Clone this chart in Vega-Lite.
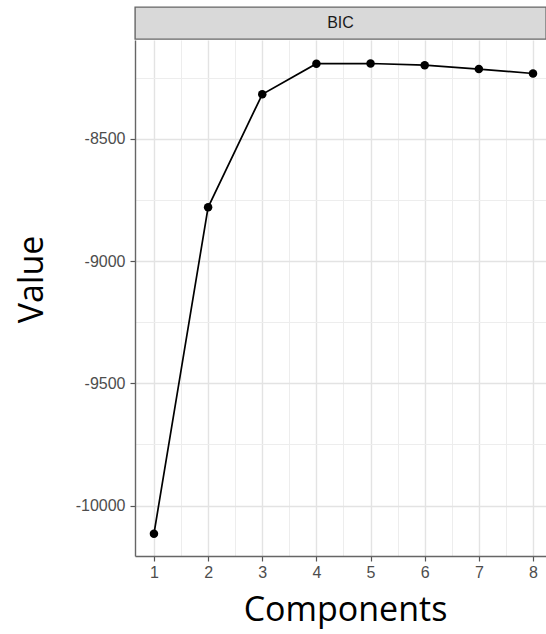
{
  "$schema": "https://vega.github.io/schema/vega-lite/v6.json",
  "padding": {"left": 15, "top": 6, "right": 0, "bottom": 8},
  "spacing": 0,
  "config": {
    "view": {"stroke": null},
    "font": "Liberation Sans",
    "axis": {
      "labelFont": "Liberation Sans",
      "labelFontSize": 16,
      "labelColor": "#4d4d4d",
      "tickColor": "#555555",
      "tickSize": 5,
      "tickWidth": 1.2,
      "titleFont": "Open Sans",
      "titleFontSize": 34,
      "titleFontWeight": "normal",
      "titleColor": "#000000"
    }
  },
  "vconcat": [
    {
      "width": 411,
      "height": 32,
      "data": {"values": [{"panel": "BIC"}]},
      "view": {"fill": "#d9d9d9", "stroke": "#666666", "strokeWidth": 1.4},
      "mark": {"type": "text", "fontSize": 16, "color": "#1a1a1a", "font": "Liberation Sans"},
      "encoding": {"text": {"field": "panel"}}
    },
    {
      "width": 411,
      "height": 516,
      "data": {
        "values": [
          {"Components": 1, "Value": -10115},
          {"Components": 2, "Value": -8780},
          {"Components": 3, "Value": -8318},
          {"Components": 4, "Value": -8193},
          {"Components": 5, "Value": -8192},
          {"Components": 6, "Value": -8199},
          {"Components": 7, "Value": -8215},
          {"Components": 8, "Value": -8233}
        ]
      },
      "layer": [
        {
          "mark": {"type": "point", "opacity": 0},
          "encoding": {
            "x": {
              "field": "Components", "type": "quantitative",
              "scale": {"domain": [0.65, 8.24], "nice": false, "zero": false},
              "axis": {"orient": "bottom", "values": [1.5, 2.5, 3.5, 4.5, 5.5, 6.5, 7.5], "grid": true, "gridColor": "#ededed", "gridWidth": 1, "ticks": false, "labels": false, "domain": false, "title": null}
            },
            "y": {
              "field": "Value", "type": "quantitative",
              "scale": {"domain": [-10206, -8096], "nice": false, "zero": false},
              "axis": {"orient": "left", "values": [-9750, -9250, -8750, -8250], "grid": true, "gridColor": "#ededed", "gridWidth": 1, "ticks": false, "labels": false, "domain": false, "title": null}
            }
          }
        },
        {
          "mark": {"type": "line", "color": "#000000", "strokeWidth": 1.7},
          "encoding": {
            "x": {
              "field": "Components", "type": "quantitative",
              "scale": {"domain": [0.65, 8.24], "nice": false, "zero": false},
              "axis": {"orient": "bottom", "values": [1, 2, 3, 4, 5, 6, 7, 8], "grid": true, "gridColor": "#e3e3e3", "gridWidth": 1.4, "domainColor": "#666666", "domainWidth": 1.4, "labelPadding": 3, "title": "Components", "titlePadding": 13, "titleX": 210}
            },
            "y": {
              "field": "Value", "type": "quantitative",
              "scale": {"domain": [-10206, -8096], "nice": false, "zero": false},
              "axis": {"orient": "left", "values": [-10000, -9500, -9000, -8500], "labelExpr": "datum.value + ''", "grid": true, "gridColor": "#e3e3e3", "gridWidth": 1.4, "domainColor": "#666666", "domainWidth": 1.4, "labelPadding": 5, "title": "Value", "titlePadding": 26, "titleY": 239}
            }
          }
        },
        {
          "mark": {"type": "point", "filled": true, "color": "#000000", "opacity": 1, "size": 72},
          "encoding": {
            "x": {"field": "Components", "type": "quantitative", "scale": {"domain": [0.65, 8.24], "nice": false, "zero": false}, "axis": null},
            "y": {"field": "Value", "type": "quantitative", "scale": {"domain": [-10206, -8096], "nice": false, "zero": false}, "axis": null}
          }
        }
      ],
      "resolve": {"axis": {"x": "independent", "y": "independent"}}
    }
  ]
}
